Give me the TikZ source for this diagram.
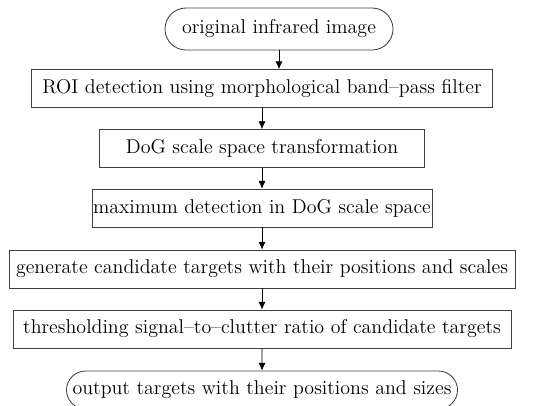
\documentclass[tikz,border=0pt]{standalone}
\usetikzlibrary{shapes.misc,arrows.meta}
\begin{document}
\begin{tikzpicture}[
  box/.style={draw=black!75, line width=0.6pt, inner sep=0pt, minimum height=0.95cm, font=\fontsize{14.2}{16}\selectfont},
  ends/.style={box, rounded rectangle},
  >={Latex[length=5.5pt,width=5pt]}]
\useasboundingbox (0,0) rectangle (14,-10.125);
% start and end of the chain
\node[ends, minimum width=5.7cm, minimum height=1.05cm] (orig) at (6.975,-0.725) {original infrared image};
\node[ends, minimum width=9.775cm] (out) at (6.55,-9.75) {output targets with their positions and sizes};
% processing steps
\node[box, minimum width=11.525cm] (roi) at (6.55,-2.2125) {ROI detection using morphological band--pass filter};
\node[box, minimum width=8.125cm] (dog) at (6.55,-3.7125) {DoG scale space transformation};
\node[box, minimum width=8.5cm] (maxdet) at (6.55,-5.2) {maximum detection in DoG scale space};
\node[box, minimum width=12.65cm] (cand) at (6.55,-6.725) {generate candidate targets with their positions and scales};
\node[box, minimum width=12.45cm] (scr) at (6.55,-8.225) {thresholding signal--to--clutter ratio of candidate targets};
% arrows
\draw[->] (orig.south) -- (orig.south |- roi.north);
\foreach \a/\b in {roi/dog, dog/maxdet, maxdet/cand, cand/scr, scr/out}
  \draw[->] (\a) -- (\b);
\end{tikzpicture}
\end{document}
